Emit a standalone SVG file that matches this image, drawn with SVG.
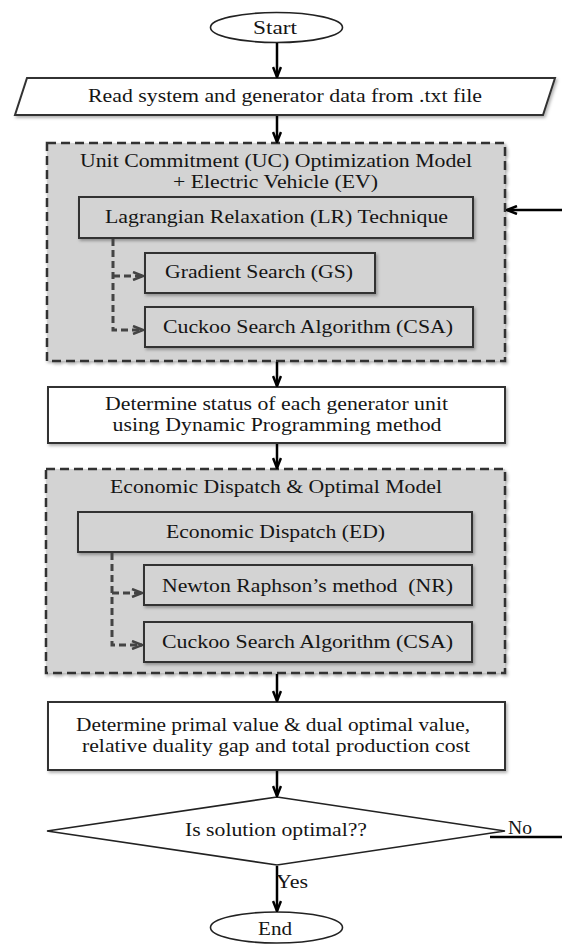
<svg xmlns="http://www.w3.org/2000/svg" width="562" height="944" viewBox="0 0 562 944" font-family="'Liberation Serif', 'DejaVu Serif', serif">
<style>
.box{fill:#d3d3d3;stroke:#333;stroke-width:2}
.dash{fill:#d3d3d3;stroke:#333;stroke-width:2.5;stroke-dasharray:9 5}
.white{fill:#fff;stroke:#333;stroke-width:2}
.term{fill:#fff;stroke:#222;stroke-width:1.6}
text{font-family:'Liberation Serif','DejaVu Serif',serif;font-size:19px;fill:#151515;text-anchor:middle}
.conn{stroke:#000;stroke-width:2.5;fill:none}
.sub{stroke:#444;stroke-width:3;stroke-dasharray:7 4;fill:none}
.shadow{filter:url(#sh)}
</style>
<defs>
<filter id="sh" x="-5%" y="-20%" width="110%" height="140%">
<feDropShadow dx="1.5" dy="2" stdDeviation="1.5" flood-color="#000" flood-opacity="0.3"/>
</filter>
<marker id="ah" viewBox="0 0 12 10" refX="11" refY="5" markerWidth="12" markerHeight="10" markerUnits="userSpaceOnUse" orient="auto">
<path d="M1,1 L11,5 L1,9" fill="none" stroke="#000" stroke-width="2.5"/>
</marker>
<marker id="ag" viewBox="0 0 12 10" refX="11" refY="5" markerWidth="12" markerHeight="10" markerUnits="userSpaceOnUse" orient="auto">
<path d="M1,1 L11,5 L1,9" fill="none" stroke="#444" stroke-width="2.5"/>
</marker>
</defs>

<g id="start">
<ellipse class="term" cx="276.5" cy="27.5" rx="66" ry="15"/>
<text x="275" y="34" textLength="44" lengthAdjust="spacingAndGlyphs">Start</text>
</g>

<g id="read">
<polygon class="white shadow" points="27,78 555,78 543,115 15,115"/>
<text x="285" y="102" textLength="394" lengthAdjust="spacingAndGlyphs">Read system and generator data from .txt file</text>
</g>

<g id="uc">
<rect class="dash shadow" x="47" y="143" width="458" height="218"/>
<text x="276" y="167" textLength="392" lengthAdjust="spacingAndGlyphs">Unit Commitment (UC) Optimization Model</text>
<text x="275.5" y="188" textLength="205" lengthAdjust="spacingAndGlyphs">+ Electric Vehicle (EV)</text>
</g>

<g id="lr">
<rect class="box shadow" x="79" y="197" width="394" height="41"/>
<text x="276.5" y="223" textLength="343" lengthAdjust="spacingAndGlyphs">Lagrangian Relaxation (LR) Technique</text>
</g>

<g id="gs">
<rect class="box shadow" x="145" y="253" width="230" height="40"/>
<text x="259" y="278" textLength="188" lengthAdjust="spacingAndGlyphs">Gradient Search (GS)</text>
</g>

<g id="csa1">
<rect class="box shadow" x="145" y="307" width="328" height="40"/>
<text x="308" y="333" textLength="290" lengthAdjust="spacingAndGlyphs">Cuckoo Search Algorithm (CSA)</text>
</g>

<g id="status">
<rect class="white shadow" x="48" y="387" width="457" height="56"/>
<text x="276.5" y="410" textLength="343" lengthAdjust="spacingAndGlyphs">Determine status of each generator unit</text>
<text x="277" y="431" textLength="329" lengthAdjust="spacingAndGlyphs">using Dynamic Programming method</text>
</g>

<g id="edmodel">
<rect class="dash shadow" x="46" y="469" width="459" height="204"/>
<text x="276" y="493" textLength="332" lengthAdjust="spacingAndGlyphs">Economic Dispatch &amp; Optimal Model</text>
</g>

<g id="ed">
<rect class="box shadow" x="78" y="512" width="394" height="40"/>
<text x="275.5" y="538" textLength="219" lengthAdjust="spacingAndGlyphs">Economic Dispatch (ED)</text>
</g>

<g id="nr">
<rect class="box shadow" x="144" y="565" width="328" height="40"/>
<text x="307.5" y="592" textLength="291" lengthAdjust="spacingAndGlyphs" xml:space="preserve">Newton Raphson’s method  (NR)</text>
</g>

<g id="csa2">
<rect class="box shadow" x="144" y="622" width="328" height="40"/>
<text x="307.5" y="648" textLength="291" lengthAdjust="spacingAndGlyphs">Cuckoo Search Algorithm (CSA)</text>
</g>

<g id="primal">
<rect class="white shadow" x="48" y="702" width="457" height="68"/>
<text x="273" y="731" textLength="394" lengthAdjust="spacingAndGlyphs">Determine primal value &amp; dual optimal value,</text>
<text x="276" y="752" textLength="388" lengthAdjust="spacingAndGlyphs">relative duality gap and total production cost</text>
</g>

<g id="decision">
<polygon class="term" points="277,797 505,831 277,865 47,831"/>
<text x="276" y="836" textLength="182" lengthAdjust="spacingAndGlyphs">Is solution optimal??</text>
</g>

<g id="end">
<ellipse class="term" cx="276.5" cy="927.5" rx="66" ry="15.5"/>
<text x="275" y="935" textLength="34" lengthAdjust="spacingAndGlyphs">End</text>
</g>

<g id="connectors">
<line class="conn" x1="277" y1="43" x2="277" y2="77" marker-end="url(#ah)"/>
<line class="conn" x1="277" y1="116" x2="277" y2="142" marker-end="url(#ah)"/>
<line class="conn" x1="277" y1="362" x2="277" y2="386" marker-end="url(#ah)"/>
<line class="conn" x1="277" y1="444" x2="277" y2="468" marker-end="url(#ah)"/>
<line class="conn" x1="277" y1="674" x2="277" y2="701" marker-end="url(#ah)"/>
<line class="conn" x1="277" y1="771" x2="277" y2="796" marker-end="url(#ah)"/>
<line class="conn" x1="277" y1="866" x2="277" y2="911" marker-end="url(#ah)"/>
<line class="conn" x1="562" y1="210" x2="507" y2="210" marker-end="url(#ah)"/>
<line class="conn" x1="490" y1="837" x2="562" y2="837" stroke-width="2"/>
<path class="sub" d="M113,239 V330 H143" marker-end="url(#ag)"/>
<path class="sub" d="M113,276 H143" marker-end="url(#ag)"/>
<path class="sub" d="M112,553 V645 H142" marker-end="url(#ag)"/>
<path class="sub" d="M112,593 H142" marker-end="url(#ag)"/>
<text x="292" y="888" text-anchor="start" textLength="32" lengthAdjust="spacingAndGlyphs">Yes</text>
<text x="520" y="834" text-anchor="start" textLength="24" lengthAdjust="spacingAndGlyphs">No</text>
</g>
</svg>
